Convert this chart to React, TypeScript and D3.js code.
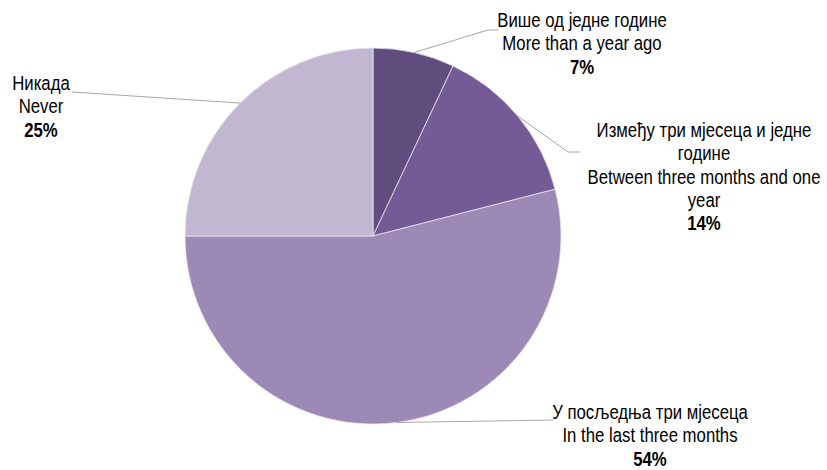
import React from "react";
import * as d3 from "d3";

const categoriesSr = ["Више од једне године", "Између три мјесеца и једне|године", "У посљедња три мјесеца", "Никада"];
const categoriesEn = ["More than a year ago", "Between three months and one|year", "In the last three months", "Never"];
const values = [7, 14, 54, 25];
const colors = ["#604c7d", "#755b95", "#9d89b5", "#c2b7d0"];

// label layout: elbow point, horizontal end, text center x, first line baseline y
const labelLayout = [
  { elbow: [488, 30], end: [498, 30], tx: 582, ty: 27 },
  { elbow: [568, 152], end: [580, 152], tx: 704, ty: 137 },
  { elbow: [553, 420], end: [553, 420], tx: 650, ty: 419 },
  { elbow: [72, 92], end: [72, 92], tx: 41, ty: 90 },
];

const W = 827, H = 470;
const cx = 373, cy = 236, R = 188;
const FONT = "'Liberation Sans Narrow', 'Arial Narrow', 'Liberation Sans', Arial, sans-serif";
const SX = 0.86;

export default function App() {
  const pie = d3.pie<number>().sort(null).value((d) => d);
  const arcs = pie(values);
  const arcGen = d3.arc<d3.PieArcDatum<number>>().innerRadius(0).outerRadius(R);
  const lineH = 23.3;
  return (
    <svg width={W} height={H} style={{ position: "absolute", left: 0, top: 0 }}>
      <rect width={W} height={H} fill="#fff" />
      <g transform={`translate(${cx},${cy})`}>
        {arcs.map((a, i) => (
          <path key={i} d={arcGen(a) || ""} fill={colors[i]} stroke="#e8e4ee" strokeWidth={0.8} />
        ))}
      </g>
      {arcs.map((a, i) => {
        const mid = (a.startAngle + a.endAngle) / 2;
        const sx = cx + R * Math.sin(mid);
        const sy = cy - R * Math.cos(mid);
        const L = labelLayout[i];
        const lines = [...categoriesSr[i].split("|"), ...categoriesEn[i].split("|")];
        const all = [...lines.map((t) => ({ t, bold: false })), { t: `${values[i]}%`, bold: true }];
        return (
          <g key={i}>
            <polyline
              points={`${sx},${sy} ${L.elbow[0]},${L.elbow[1]} ${L.end[0]},${L.end[1]}`}
              fill="none"
              stroke="#a6a6a6"
              strokeWidth={1}
            />
            {all.map((ln, j) => (
              <text
                key={j}
                transform={`translate(${L.tx},${L.ty + j * lineH}) scale(${SX},1)`}
                fontFamily={FONT}
                fontSize={19.5}
                fill="#000"
                textAnchor="middle"
                fontWeight={ln.bold ? "bold" : "normal"}
              >
                {ln.t}
              </text>
            ))}
          </g>
        );
      })}
    </svg>
  );
}
